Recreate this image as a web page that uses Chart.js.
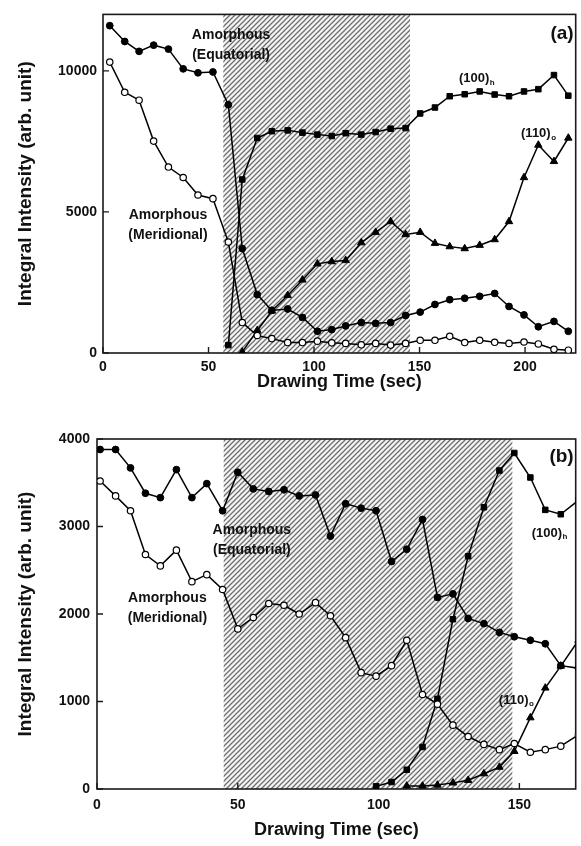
<!DOCTYPE html>
<html>
<head>
<meta charset="utf-8">
<script src="https://cdn.jsdelivr.net/npm/chart.js@4.4.1/dist/chart.umd.min.js"></script>
<style>
  html, body { margin: 0; padding: 0; background: #fff; }
  .panel { position: absolute; left: 0; width: 581px; }
  #panelA { top: 0; height: 400px; }
  #panelB { top: 420px; height: 426px; }
</style>
</head>
<body>
<div class="panel" id="panelA"><canvas id="chartA" width="581" height="400"></canvas></div>
<div class="panel" id="panelB"><canvas id="chartB" width="581" height="426"></canvas></div>
<script>
// ---------- Panel (a) ----------
const timeA = [3.2, 10.3, 17.1, 24.0, 31.0, 38.0, 45.0, 52.1, 59.4, 66.0, 73.1, 80.0, 87.5, 94.5, 101.6, 108.4,
               115.0, 122.4, 129.2, 136.3, 143.4, 150.3, 157.3, 164.3, 171.4, 178.5, 185.6, 192.4, 199.5, 206.3, 213.7, 220.5];
const amorphEquatorialA = [11600, 11040, 10690, 10910, 10770, 10070, 9930, 9960, 8800, 3700, 2070, 1510, 1560, 1260, 770, 830,
                           960, 1080, 1050, 1080, 1330, 1450, 1720, 1890, 1940, 2010, 2110, 1650, 1350, 930, 1120, 770];
const amorphMeridionalA = [10310, 9240, 8960, 7510, 6590, 6220, 5600, 5470, 3930, 1080, 620, 510, 370, 370, 420, 360,
                           340, 290, 340, 280, 340, 450, 450, 590, 370, 450, 380, 340, 390, 320, 130, 100];
const peak100hA = [null, null, null, null, null, null, null, null, 280, 6150, 7620, 7860, 7890, 7810, 7740, 7690,
                   7790, 7740, 7830, 7950, 7970, 8490, 8700, 9100, 9170, 9270, 9160, 9100, 9270, 9350, 9850, 9120];
const peak110oA = [null, null, null, null, null, null, null, null, null, 40, 800, 1490, 2040, 2590, 3160, 3240,
                   3280, 3910, 4280, 4660, 4200, 4280, 3890, 3770, 3700, 3820, 4020, 4660, 6220, 7370, 6790, 7620];
const xTicksA = [0, 50, 100, 150, 200];
const yTicksA = [0, 5000, 10000];
const shadeA = [57, 145.5];

// ---------- Panel (b) ----------
const timeB = [1.1, 6.6, 11.9, 17.2, 22.5, 28.2, 33.7, 39.0, 44.6, 50.0, 55.5, 61.0, 66.4, 71.8, 77.6, 82.9,
               88.3, 93.8, 99.1, 104.6, 110.0, 115.6, 120.9, 126.4, 131.8, 137.4, 142.9, 148.2, 153.9, 159.2, 164.7, 171.0];
const amorphEquatorialB = [3880, 3880, 3670, 3380, 3330, 3650, 3330, 3490, 3180, 3620, 3430, 3400, 3420, 3350, 3360, 2890,
                           3260, 3210, 3180, 2600, 2740, 3080, 2190, 2230, 1950, 1890, 1790, 1740, 1700, 1660, 1410, 1380];
const amorphMeridionalB = [3520, 3350, 3180, 2680, 2550, 2730, 2370, 2450, 2280, 1830, 1960, 2120, 2100, 2000, 2130, 1980,
                           1730, 1330, 1290, 1410, 1700, 1080, 970, 730, 600, 510, 450, 520, 420, 450, 490, 620];
const peak100hB = [null, null, null, null, null, null, null, null, null, null, null, null, null, null, null, null,
                   null, null, 30, 80, 220, 480, 1030, 1940, 2660, 3220, 3640, 3840, 3560, 3190, 3140, 3300];
const peak110oB = [null, null, null, null, null, null, null, null, null, null, null, null, null, null, null, null,
                   null, null, null, null, 35, 35, 45, 70, 100, 175, 250, 430, 815, 1155, 1405, 1700];
const xTicksB = [0, 50, 100, 150];
const yTicksB = [0, 1000, 2000, 3000, 4000];
const shadeB = [45, 147.5];

const FONT = '"Liberation Sans", Arial, Helvetica, sans-serif';

function pairs(t, v) {
  return t.map((x, i) => ({ x: x, y: v[i] })).filter(p => p.y !== null);
}

// diagonal hatch used for the drawing-zone band
function hatchPattern(ctx) {
  const s = 5;
  const c = document.createElement('canvas');
  c.width = s; c.height = s;
  const g = c.getContext('2d');
  g.fillStyle = '#f4f4f4';
  g.fillRect(0, 0, s, s);
  g.strokeStyle = '#6e6e6e';
  g.lineWidth = 1.25;
  g.beginPath();
  g.moveTo(-1, s + 1); g.lineTo(s + 1, -1);
  g.moveTo(-1, 1); g.lineTo(1, -1);
  g.moveTo(s - 1, s + 1); g.lineTo(s + 1, s - 1);
  g.stroke();
  return ctx.createPattern(c, 'repeat');
}

const panelDecor = {
  id: 'panelDecor',
  beforeDatasetsDraw(chart, args, opts) {
    const { ctx, chartArea: a, scales: { x, y } } = chart;
    ctx.save();
    // hatched band
    const x0 = x.getPixelForValue(opts.shade[0]);
    const x1 = x.getPixelForValue(opts.shade[1]);
    ctx.fillStyle = hatchPattern(ctx);
    ctx.fillRect(x0, a.top, x1 - x0, a.bottom - a.top);
    // frame
    ctx.strokeStyle = '#1a1a1a';
    ctx.lineWidth = 1.6;
    ctx.strokeRect(a.left, a.top, a.right - a.left, a.bottom - a.top);
    // inward tick marks
    ctx.lineWidth = 1.4;
    ctx.beginPath();
    x.ticks.forEach(t => {
      const px = x.getPixelForValue(t.value);
      ctx.moveTo(px, a.bottom); ctx.lineTo(px, a.bottom - 6);
    });
    y.ticks.forEach(t => {
      const py = y.getPixelForValue(t.value);
      ctx.moveTo(a.left, py); ctx.lineTo(a.left + 6, py);
    });
    ctx.stroke();
    ctx.restore();
  },
  afterDatasetsDraw(chart, args, opts) {
    const { ctx, chartArea: a, scales: { x, y } } = chart;
    ctx.save();
    ctx.fillStyle = '#111';
    ctx.textBaseline = 'middle';
    opts.notes.forEach(n => {
      const px = x.getPixelForValue(n.x);
      const py = y.getPixelForValue(n.y);
      ctx.font = 'bold ' + n.size + 'px ' + FONT;
      ctx.textAlign = n.align || 'center';
      ctx.fillText(n.text, px, py);
      if (n.sub) {
        const w = ctx.measureText(n.text).width;
        ctx.font = 'bold ' + Math.round(n.size * 0.62) + 'px ' + FONT;
        ctx.textAlign = 'left';
        ctx.fillText(n.sub, px + w + 0.5, py + 4);
      }
    });
    ctx.font = 'bold 19px ' + FONT;
    ctx.textAlign = 'right';
    ctx.fillText(opts.tag, a.right - 2, a.top + opts.tagDy);
    ctx.restore();
  }
};

function seriesSets(t, eq, mer, h, o) {
  const line = { borderColor: '#000', borderWidth: 1.5, showLine: true, tension: 0, clip: 0 };
  return [
    Object.assign({ label: 'Amorphous (Meridional)', data: pairs(t, mer), pointStyle: 'circle', pointRadius: 3.2,
      pointBackgroundColor: '#fff', pointBorderColor: '#000', pointBorderWidth: 1.2 }, line),
    Object.assign({ label: 'Amorphous (Equatorial)', data: pairs(t, eq), pointStyle: 'circle', pointRadius: 3.4,
      pointBackgroundColor: '#000', pointBorderColor: '#000', pointBorderWidth: 1 }, line),
    Object.assign({ label: '(100)h', data: pairs(t, h), pointStyle: 'rect', pointRadius: 3.9,
      pointBackgroundColor: '#000', pointBorderColor: '#000', pointBorderWidth: 1 }, line),
    Object.assign({ label: '(110)o', data: pairs(t, o), pointStyle: 'triangle', pointRadius: 4.3,
      pointBackgroundColor: '#000', pointBorderColor: '#000', pointBorderWidth: 1 }, line)
  ];
}

function makePanel(id, p) {
  return new Chart(document.getElementById(id), {
    type: 'scatter',
    data: { datasets: seriesSets(p.t, p.eq, p.mer, p.h, p.o) },
    options: {
      responsive: false,
      animation: false,
      devicePixelRatio: 1,
      layout: { padding: { left: 0, top: p.top, right: 4, bottom: 0 } },
      plugins: {
        legend: { display: false },
        tooltip: { enabled: false },
        panelDecor: { shade: p.shade, notes: p.notes, tag: p.tag, tagDy: p.tagDy }
      },
      scales: {
        x: {
          type: 'linear', min: 0, max: p.xMax,
          grid: { display: false, drawTicks: false },
          border: { display: false },
          afterBuildTicks: s => { s.ticks = p.xTicks.map(v => ({ value: v })); },
          afterFit: s => { s.height = p.xHeight; },
          ticks: { padding: p.xPad, color: '#111', font: { family: FONT, size: 14, weight: 'bold' },
                   callback: v => String(v) },
          title: { display: true, text: 'Drawing Time (sec)', color: '#111',
                   font: { family: FONT, size: 18, weight: 'bold' }, padding: { top: 0, bottom: p.xTitlePad } }
        },
        y: {
          type: 'linear', min: 0, max: p.yMax,
          grid: { display: false, drawTicks: false },
          border: { display: false },
          afterBuildTicks: s => { s.ticks = p.yTicks.map(v => ({ value: v })); },
          afterFit: s => { s.width = p.yWidth; },
          ticks: { padding: p.yPad, color: '#111', font: { family: FONT, size: 14, weight: 'bold' },
                   callback: v => String(v) },
          title: { display: true, text: 'Integral Intensity (arb. unit)', color: '#111',
                   font: { family: FONT, size: 19, weight: 'bold' }, padding: { top: 14.5, bottom: 0 } }
        }
      }
    },
    plugins: [panelDecor]
  });
}

makePanel('chartA', {
  t: timeA, eq: amorphEquatorialA, mer: amorphMeridionalA, h: peak100hA, o: peak110oA,
  xTicks: xTicksA, yTicks: yTicksA, shade: shadeA,
  xMax: 224, yMax: 12000, top: 6, xHeight: 47, yWidth: 103, xPad: 6, yPad: 6, xTitlePad: 7,
  tag: '(a)', tagDy: 19,
  notes: [
    { text: 'Amorphous', x: 60.7, y: 11280, size: 14 },
    { text: '(Equatorial)', x: 60.7, y: 10554, size: 14 },
    { text: 'Amorphous', x: 30.8, y: 4879, size: 14 },
    { text: '(Meridional)', x: 30.8, y: 4187, size: 14 },
    { text: '(100)', sub: 'h', x: 168.7, y: 9723, size: 13, align: 'left' },
    { text: '(110)', sub: 'o', x: 198.1, y: 7785, size: 13, align: 'left' }
  ]
});

makePanel('chartB', {
  t: timeB, eq: amorphEquatorialB, mer: amorphMeridionalB, h: peak100hB, o: peak110oB,
  xTicks: xTicksB, yTicks: yTicksB, shade: shadeB,
  xMax: 170, yMax: 4000, top: 19, xHeight: 57, yWidth: 97, xPad: 7.5, yPad: 7, xTitlePad: 5,
  tag: '(b)', tagDy: 18,
  notes: [
    { text: 'Amorphous', x: 55.0, y: 2960, size: 14 },
    { text: '(Equatorial)', x: 55.0, y: 2732, size: 14 },
    { text: 'Amorphous', x: 25.0, y: 2183, size: 14 },
    { text: '(Meridional)', x: 25.0, y: 1954, size: 14 },
    { text: '(100)', sub: 'h', x: 154.4, y: 2926, size: 13, align: 'left' },
    { text: '(110)', sub: 'o', x: 142.7, y: 1017, size: 13, align: 'left' }
  ]
});
</script>
</body>
</html>
